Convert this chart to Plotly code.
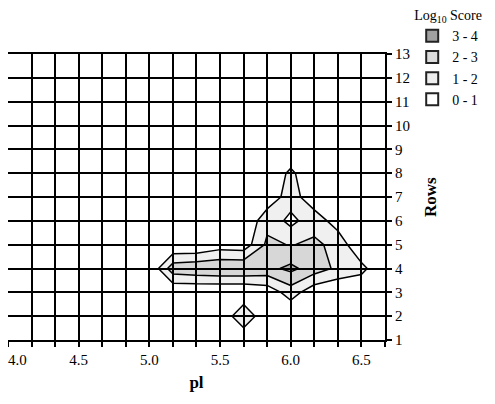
import plotly.graph_objects as go

# x categories (pl) at each grid node, and row numbers
pl = [4.0, 4.167, 4.333, 4.5, 4.667, 4.833, 5.0, 5.167, 5.333, 5.5,
      5.667, 5.833, 6.0, 6.167, 6.333, 6.5, 6.667]
pl_labels = ["\u00a0\u00a0\u00a0\u00a0\u00a04.0", "", "", "4.5", "", "", "5.0", "", "", "5.5",
             "", "", "6.0", "", "", "6.5", ""]
rows = [1, 2, 3, 4, 5, 6, 7, 8, 9, 10, 11, 12, 13]

# Log10 score at each grid node, one list per row (columns follow pl)
row1 = [0, 0, 0, 0, 0, 0, 0, 0, 0, 0, 0, 0, 0, 0, 0, 0, 0]
row2 = [0, 0, 0, 0, 0, 0, 0, 0, 0, 0, 1.95, 0, 0, 0, 0, 0, 0]
row3 = [0, 0, 0, 0, 0, 0, 0, 0, 0, 0, 0, 0.3, 1.5, 0.3, 0, 0, 0]
row4 = [0, 0, 0, 0, 0, 0, 0, 2.6, 2.8, 2.9, 2.9, 2.7, 3.25, 2.5, 1.8, 1.33, 0]
row5 = [0, 0, 0, 0, 0, 0, 0, 0, 0, 0.5, 0.4, 2.2, 1.95, 2.2, 1.7, 0, 0]
row6 = [0, 0, 0, 0, 0, 0, 0, 0, 0, 0, 0, 1.7, 0.7, 1.6, 0.5, 0, 0]
row7 = [0, 0, 0, 0, 0, 0, 0, 0, 0, 0, 0, 0.3, 1.5, 0.3, 0, 0, 0]
row8 = [0, 0, 0, 0, 0, 0, 0, 0, 0, 0, 0, 0, 1.25, 0, 0, 0, 0]
row9 = [0] * 17
row10 = [0] * 17
row11 = [0] * 17
row12 = [0] * 17
row13 = [0] * 17

bands = ["3 - 4", "2 - 3", "1 - 2", "0 - 1"]

z = [row1, row2, row3, row4, row5, row6, row7, row8,
     row9, row10, row11, row12, row13]

# fills stack on top of each other, so each band adds a little more grey
c0 = "rgba(255,255,255,0)"
c1 = "rgba(0,0,0,0.06)"
c2 = "rgba(0,0,0,0.10)"
c3 = "rgba(0,0,0,0.18)"
cscale = [[0, c0], [1/6, c0], [1/6, c1], [0.5, c1], [0.5, c2],
          [5/6, c2], [5/6, c3], [1, c3]]

fig = go.Figure()
fig.add_trace(go.Contour(
    x=pl, y=rows, z=z,
    contours=dict(start=1, end=3, size=1, coloring="fill", showlines=True),
    line=dict(color="black", width=1.5, smoothing=0),
    colorscale=cscale, showscale=False, hoverinfo="skip", showlegend=False,
))

legend_fill = {"3 - 4": "#a0a0a0", "2 - 3": "#dcdcdc", "1 - 2": "#eeeeee", "0 - 1": "#ffffff"}
for b in bands:
    fig.add_trace(go.Scatter(
        x=[None], y=[None], mode="markers", name=b,
        marker=dict(symbol="square", size=7, color=legend_fill[b],
                    line=dict(color="#222222", width=1.3)),
    ))

font = dict(family="Liberation Serif", size=15, color="black")

# page body adds an 8px offset, so the figure is sized to fit the window
fig.update_layout(
    width=487, height=396,
    margin=dict(l=0, r=110, t=46, b=64, autoexpand=False),
    paper_bgcolor="white", plot_bgcolor="white",
    font=font,
    showlegend=True,
    legend=dict(
        title=dict(text="Log<sub>10</sub> Score", font=dict(family="Liberation Serif", size=14)),
        xref="container", yref="paper",
        x=0.83, xanchor="left", y=1.182, yanchor="top",
        bgcolor="rgba(0,0,0,0)", font=dict(family="Liberation Serif", size=14),
        tracegroupgap=0, itemsizing="constant", itemwidth=30,
    ),
    xaxis=dict(
        range=[pl[0], pl[-1]], tickmode="array", tickvals=pl, ticktext=pl_labels,
        showgrid=True, gridcolor="black", gridwidth=1.6,
        showline=True, linecolor="black", linewidth=2, mirror=True,
        ticks="outside", ticklen=5, tickwidth=1.5, tickcolor="black",
        zeroline=False, automargin=False, ticklabeloverflow="allow",
        title=dict(text="<b>pl</b>", font=dict(family="Liberation Serif", size=17), standoff=9),
    ),
    yaxis=dict(
        range=[rows[0], rows[-1]], side="right", tickmode="array", tickvals=rows,
        showgrid=True, gridcolor="black", gridwidth=1.6,
        showline=True, linecolor="black", linewidth=2, mirror=True,
        ticks="outside", ticklen=5, tickwidth=1.5, tickcolor="black",
        zeroline=False, automargin=False,
    ),
    annotations=[dict(
        text="<b>Rows</b>", xref="paper", yref="paper", x=1, y=0.5,
        xanchor="center", yanchor="middle", xshift=45, textangle=-90,
        showarrow=False, font=dict(family="Liberation Serif", size=17),
    )],
)

fig.write_html("out.html")
